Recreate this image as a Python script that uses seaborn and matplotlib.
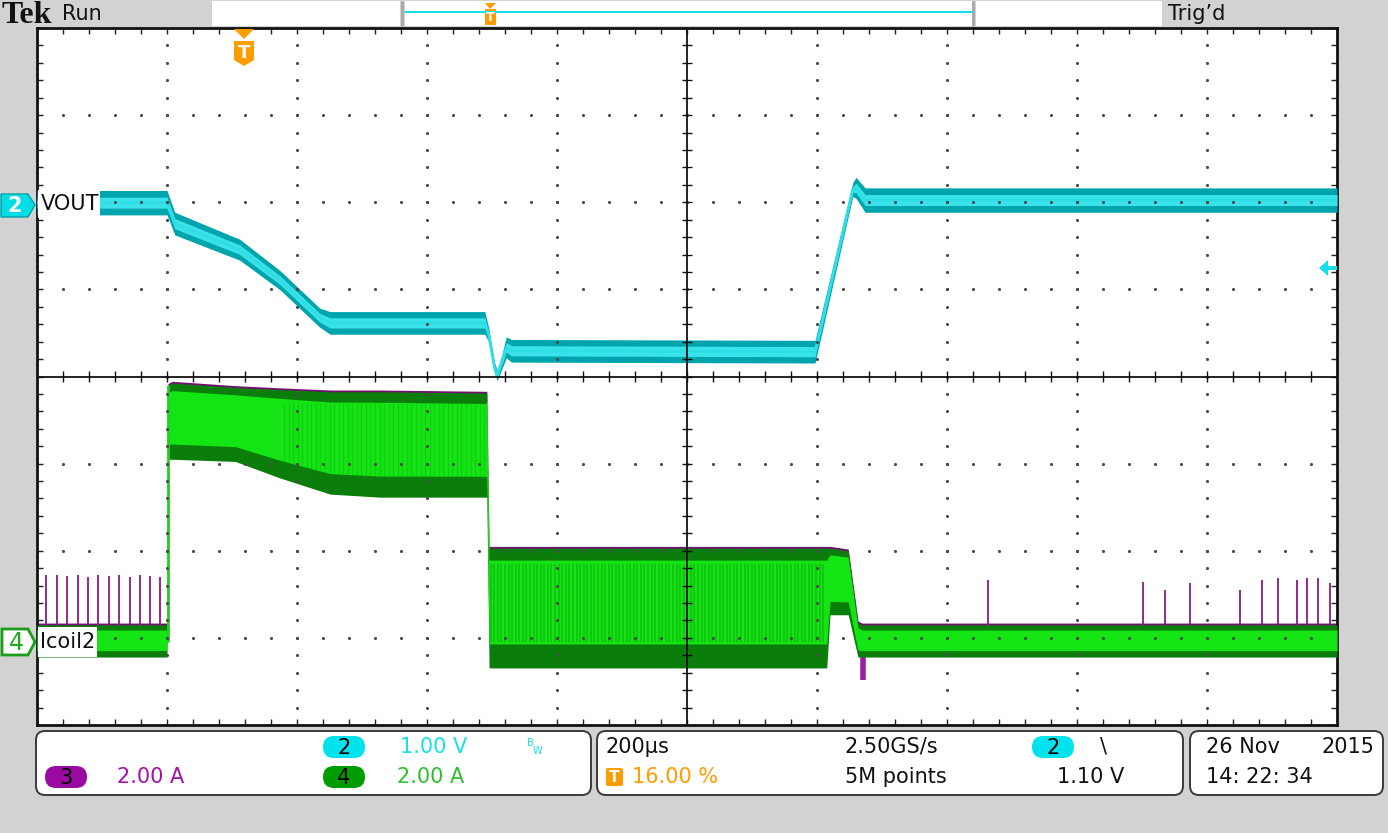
import numpy as np
import pandas as pd
import matplotlib
matplotlib.use("Agg")
import matplotlib.pyplot as plt
from matplotlib.patches import Polygon, Rectangle, FancyBboxPatch
import seaborn as sns

sns.set_theme(style="white")
plt.rcParams["font.family"] = ["DejaVu Sans"]

# screen: 10 x 8 divisions, 200 us/div, trigger point at 16 % of record
T_START, T_END = -320, 1680
CH2_VOLTS_DIV = 1.00
CH2_POS = 0.145          # screen offset of channel 2 (divisions)
CH4_AMPS_DIV = 2.00
CH4_POS = -3.05          # screen offset of channel 4 (divisions)

# --- channel 2: VOUT (volts), centre of the trace and half band width ---
vout_t = [-320, -120, -108, -8, 54, 115, 131, 369, 375, 384, 388, 395,
          402, 410, 877, 935, 940, 954, 1680]
vout_v = [1.85, 1.85, 1.61, 1.31, 0.96, 0.53, 0.47, 0.47, 0.33, -0.05,
          -0.13, 0.02, 0.19, 0.15, 0.14, 2.00, 2.02, 1.88, 1.88]
vout_spread = [0.14, 0.14, 0.13, 0.12, 0.11, 0.11, 0.13, 0.13, 0.08, 0.06,
               0.06, 0.08, 0.12, 0.13, 0.13, 0.08, 0.12, 0.14, 0.14]

# --- channel 4: Icoil2 (amps), upper / lower envelope of the ripple ---
icoil_t = [-320, -120, -118.5, -112, -15, 54, 131, 208, 372, 375.5,
           895, 900, 928, 943, 949, 1680]
icoil_hi = [0.40, 0.40, 5.90, 5.95, 5.85, 5.80, 5.75, 5.75, 5.72, 2.16,
            2.16, 2.16, 2.10, 0.45, 0.40, 0.40]
icoil_lo = [-0.34, -0.34, 4.20, 4.20, 4.15, 3.77, 3.40, 3.33, 3.33, -0.59,
            -0.59, 0.63, 0.63, -0.34, -0.34, -0.34]
step_t = -119            # load step edge

# --- channel 3 (amps): glitch spikes seen above the channel 4 band ---
spike_t = [-306, -289, -274, -257, -242, -226, -209, -194, -177, -162,
           -146, -131, 1143, 1382, 1415, 1454, 1531, 1565, 1589, 1619,
           1634, 1651, 1669]
spike_a = [1.54, 1.54, 1.52, 1.54, 1.50, 1.54, 1.52, 1.54, 1.50, 1.54,
           1.52, 1.50, 1.43, 1.38, 1.20, 1.36, 1.20, 1.43, 1.47, 1.43,
           1.47, 1.47, 1.36]
undershoot_t = 951
undershoot_a = -0.87


def ch2(v):
    return np.asarray(v, dtype=float) / CH2_VOLTS_DIV + CH2_POS


def ch4(a):
    return np.asarray(a, dtype=float) / CH4_AMPS_DIV + CH4_POS


W, H = 1388, 833
fig = plt.figure(figsize=(W / 100, H / 100), dpi=100)
fig.patch.set_facecolor("#d2d2d2")

ax = fig.add_axes([37 / W, 1 - 725 / H, 1300 / W, 697 / H])
ax.set_facecolor("white")
ax.set_xlim(T_START, T_END)
ax.set_ylim(-4, 4)

# ---- traces ----
t4 = np.array(icoil_t, dtype=float)
hi = np.array(icoil_hi)
lo = np.array(icoil_lo)
span = hi - lo
in_hi = hi - np.maximum(0.12, 0.10 * span)
in_lo = lo + np.maximum(0.11, 0.20 * span)

# channel 3 sits under channel 4, only a thin top rim and spikes show
ax.fill_between(t4, ch4(hi + 0.04), ch4(hi - 0.2), color="#74106f",
                lw=0, zorder=2)
ax.vlines(spike_t, ch4(0.30), ch4(spike_a), color="#8a1a88", lw=1.3,
          zorder=2)
ax.vlines([undershoot_t], ch4(-0.3), ch4(undershoot_a), color="#9a20a0",
          lw=4, zorder=2)

ax.fill_between(t4, ch4(hi), ch4(lo), color="#0b7d0b", lw=0, zorder=3)
ax.fill_between(t4, ch4(in_hi), ch4(in_lo), color="#14e414", lw=0, zorder=3)
ax.vlines([step_t], ch4(0.0), ch4(5.9), color="#22d022", lw=2, zorder=3)
# switching ripple texture
stripe_t = np.arange(378, 893, 5.5)
ax.vlines(stripe_t, ch4(1.80), ch4(0.0), color="#0d8d0d", lw=1.1,
          alpha=0.45, zorder=3)
stripe_t2 = np.arange(60, 370, 7)
ax.vlines(stripe_t2, ch4(5.5), ch4(3.8), color="#0d8d0d", lw=0.9,
          alpha=0.25, zorder=3)

tv = np.array(vout_t, dtype=float)
vv = np.array(vout_v)
sp = np.array(vout_spread)
ax.fill_between(tv, ch2(vv + sp), ch2(vv - sp), color="#00a4ad", lw=0,
                zorder=4)
ax.fill_between(tv, ch2(vv + 0.45 * sp), ch2(vv - 0.45 * sp),
                color="#3ae2ea", lw=0, zorder=4)
vout_df = pd.DataFrame({"t": tv, "div": ch2(vv)})
sns.lineplot(data=vout_df, x="t", y="div", ax=ax, color="#30dde6", lw=2,
             zorder=4)

# ---- graticule (drawn over the traces, like the scope) ----
vx = [T_START + 200 * k for k in range(1, 10) if k != 5]
hy = [-3, -2, -1, 1, 2, 3]
yy = np.arange(-3.8, 3.81, 0.2)
xx = np.arange(T_START + 40, T_END, 40)
dots = pd.DataFrame({
    "t": np.concatenate([np.repeat(vx, len(yy)), np.tile(xx, len(hy))]),
    "div": np.concatenate([np.tile(yy, len(vx)), np.repeat(hy, len(xx))]),
})
sns.scatterplot(data=dots, x="t", y="div", ax=ax, s=5, color="#4a4a4a",
                linewidth=0, zorder=10)
ax.axhline(0, color="#111111", lw=1.3, zorder=10)
ax.axvline(680, color="#111111", lw=1.3, zorder=10)
ax.vlines(xx, -0.06, 0.06, color="#111111", lw=1, zorder=10)
ax.hlines(yy, 680 - 8, 680 + 8, color="#111111", lw=1, zorder=10)

ax.set_xticks(np.arange(T_START, T_END + 1, 40))
ax.set_yticks(np.arange(-4, 4.01, 0.2))
ax.tick_params(direction="in", length=4, width=1, colors="#222222",
               top=True, right=True, bottom=True, left=True,
               labelbottom=False, labelleft=False)
ax.set_xlabel("")
ax.set_ylabel("")
for s in ax.spines.values():
    s.set_color("#111111")
    s.set_linewidth(2)

# ---- overlay in screen pixels: readouts and markers ----
ov = fig.add_axes([0, 0, 1, 1], zorder=5)
ov.set_xlim(0, W)
ov.set_ylim(H, 0)
ov.axis("off")
ov.patch.set_visible(False)

CYAN = "#18e0e8"
PURPLE = "#a413a8"
GREEN = "#2ec02e"
ORANGE = "#ff9c00"
TXT = dict(fontsize=15, va="center")

# top status bar
ov.text(2, 15, "Tek", family="Liberation Serif", fontweight="bold",
        fontsize=23, va="center", color="#111111")
ov.text(62, 14, "Run", color="#111111", **TXT)
ov.add_patch(Rectangle((212, 1), 188, 25, fc="white", ec="none"))
ov.add_patch(Rectangle((405, 1), 567, 25, fc="white", ec="none"))
ov.add_patch(Rectangle((976, 1), 186, 25, fc="white", ec="none"))
ov.plot([402, 402], [2, 25], color="#a8a8a8", lw=2)
ov.plot([973, 973], [2, 25], color="#a8a8a8", lw=2)
ov.plot([405, 972], [12, 12], color=CYAN, lw=1.5)
ov.add_patch(Polygon([(485, 3), (496, 3), (490, 9)], fc=ORANGE, ec="none"))
ov.add_patch(Rectangle((485, 9), 11, 16, fc=ORANGE, ec="none"))
ov.text(490.5, 17, "T", color="white", fontsize=9, fontweight="bold",
        ha="center", va="center")
ov.text(1168, 14, "Trig\u2019d", color="#111111", **TXT)

# trigger position marker
ov.add_patch(Polygon([(234, 29), (254, 29), (244, 39)], fc=ORANGE, ec="none"))
ov.add_patch(Polygon([(234, 41), (254, 41), (254, 60), (244, 66), (234, 60)],
                     fc=ORANGE, ec="none"))
ov.text(244, 53, "T", color="white", fontsize=13, fontweight="bold",
        ha="center", va="center")

# trigger level arrow
ov.add_patch(Polygon([(1319, 268), (1328, 260), (1328, 276)], fc=CYAN,
                     ec="none"))
ov.add_patch(Rectangle((1327, 266), 10, 4, fc=CYAN, ec="none"))

# channel 2 label
ov.add_patch(Polygon([(1, 194), (28, 194), (35, 205), (28, 217), (1, 217)],
                     fc="#00dde6", ec="#00a0a8", lw=1))
ov.text(15, 206, "2", color="white", fontsize=15, fontweight="bold",
        ha="center", va="center")
ov.add_patch(Rectangle((38, 190), 62, 28, fc="white", ec="none"))
ov.text(41, 204, "VOUT", color="#111111", **TXT)

# channel 4 label
ov.add_patch(Polygon([(2, 629), (28, 629), (35, 642), (28, 655), (2, 655)],
                     fc="white", ec="#1c9c1c", lw=2))
ov.text(16, 643, "4", color="#22a822", fontsize=17, ha="center",
        va="center")
ov.add_patch(Rectangle((38, 627), 59, 30, fc="white", ec="none"))
ov.text(40, 642, "Icoil2", color="#111111", **TXT)


def badge(cx, cy, color, label):
    ov.add_patch(FancyBboxPatch((cx - 21, cy - 11), 42, 22,
                                boxstyle="round,pad=0,rounding_size=11",
                                fc=color, ec="none"))
    ov.text(cx, cy + 1, label, color="black", fontsize=15, ha="center",
            va="center")


# bottom readout boxes
for x0, x1 in [(36, 591), (597, 1183), (1190, 1383)]:
    ov.add_patch(FancyBboxPatch((x0, 731), x1 - x0, 64,
                                boxstyle="round,pad=0,rounding_size=9",
                                fc="white", ec="#3a3a3a", lw=1.4))

R1, R2 = 747, 777
badge(344, R1, "#00e3ec", "2")
ov.text(400, R1, "1.00 V", color=CYAN, **TXT)
ov.text(527, R1 - 4, "B", color=CYAN, fontsize=7, va="center")
ov.text(533, R1 + 4, "W", color=CYAN, fontsize=7, va="center")
badge(66, R2, "#9a0aa0", "3")
ov.text(117, R2, "2.00 A", color=PURPLE, **TXT)
badge(344, R2, "#009c00", "4")
ov.text(397, R2, "2.00 A", color=GREEN, **TXT)

ov.text(606, R1, "200\u00b5s", color="#111111", **TXT)
ov.add_patch(FancyBboxPatch((606, R2 - 9), 17, 18,
                            boxstyle="round,pad=0,rounding_size=2",
                            fc=ORANGE, ec="none"))
ov.text(614.5, R2, "T", color="white", fontsize=11, fontweight="bold",
        ha="center", va="center")
ov.text(632, R2, "16.00 %", color=ORANGE, **TXT)
ov.text(845, R1, "2.50GS/s", color="#111111", **TXT)
ov.text(845, R2, "5M points", color="#111111", **TXT)
badge(1053, R1, "#00e3ec", "2")
ov.text(1100, R1, "\\", color="#111111", **TXT)
ov.text(1057, R2, "1.10 V", color="#111111", **TXT)

ov.text(1206, R1, "26 Nov", color="#111111", **TXT)
ov.text(1322, R1, "2015", color="#111111", **TXT)
ov.text(1206, R2, "14: 22: 34", color="#111111", **TXT)

fig.savefig("out.png", dpi=100, facecolor=fig.get_facecolor())
